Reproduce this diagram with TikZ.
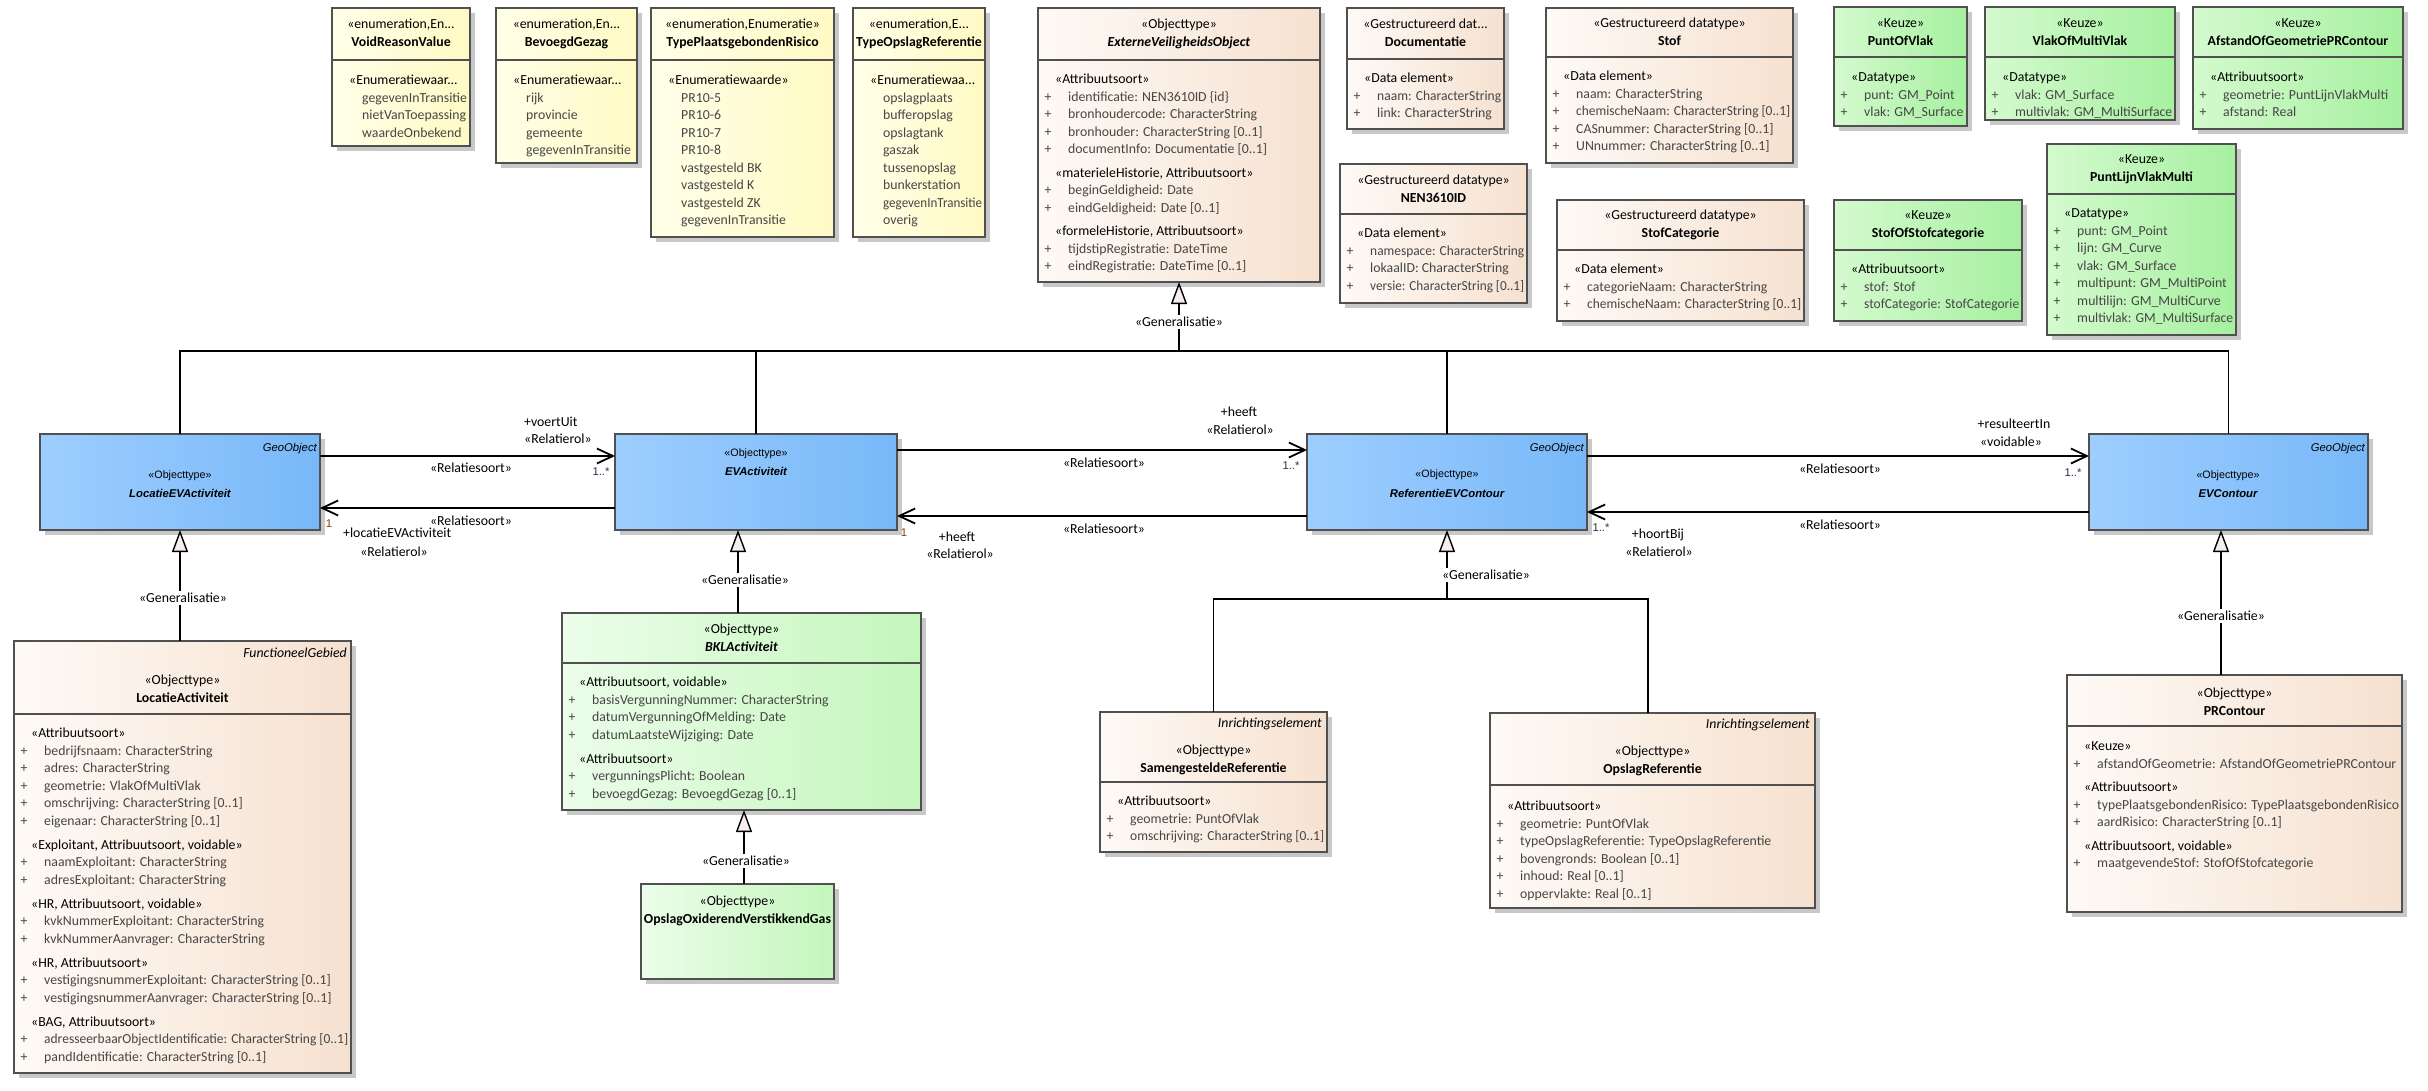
\documentclass[tikz,border=0pt]{standalone}
\usepackage{fontspec}
\setmainfont{Carlito}
\newfontfamily\arialf{Liberation Sans}
\usepackage{graphicx}
\usetikzlibrary{arrows.meta,shadows}
\definecolor{boxc}{RGB}{80,80,80}
\definecolor{yelL}{RGB}{255,255,232}
\definecolor{yelR}{RGB}{255,250,196}
\definecolor{peL}{RGB}{254,250,246}
\definecolor{peR}{RGB}{246,225,208}
\definecolor{grL}{RGB}{212,250,206}
\definecolor{grR}{RGB}{166,240,160}
\definecolor{lgL}{RGB}{236,253,234}
\definecolor{lgR}{RGB}{196,246,188}
\definecolor{blL}{RGB}{158,206,255}
\definecolor{blR}{RGB}{120,184,248}
\definecolor{shd}{RGB}{200,200,200}
\definecolor{trif}{RGB}{246,238,236}
\definecolor{multc}{RGB}{40,50,80}
\definecolor{onec}{RGB}{120,70,10}
\definecolor{attrc}{RGB}{70,70,70}
\newlength\attrw
\newsavebox\fitbox
\newcommand{\fitw}[2]{\sbox\fitbox{#2}\ifdim\wd\fitbox>#1\relax\resizebox{#1}{\height}{\usebox\fitbox}\else\usebox\fitbox\fi}
\newcommand{\st}[1]{\hspace*{10.5pt}«#1»}
\newcommand{\sx}[1]{\hspace*{10.5pt}#1}
\newcommand{\at}[1]{{\color{attrc}\makebox[23.5pt][l]{+}\fitw{\attrw}{#1}}}
\newcommand{\ev}[1]{\hspace*{23.5pt}{\color{attrc}\fitw{\attrw}{#1}}}
\newcommand{\ubox}[6]{\node[box,#2,minimum width={#5pt-#3pt},minimum height={#6pt-#4pt}] (#1) at ({(#3+#5)/2},{(#4+#6)/2}) {};}
\newcommand{\uhdr}[2]{\draw[hdr] (#1.west |- 0,#2) -- (#1.east |- 0,#2);}
\newcommand{\ttl}[5]{\node[ttl] (#1) at (#2,#3) {\begin{tabular}[t]{@{}c@{}}#4\\#5\end{tabular}};}
\newcommand{\bdy}[5]{\node[bdy] (#1) at (#2,#3) {\setlength\attrw{#4pt}\begin{tabular}[t]{@{}l@{}}#5\end{tabular}};}
\tikzset{
 box/.style={draw=boxc, line width=1.4pt, inner sep=0pt, outer sep=0pt, drop shadow={shadow xshift=5pt, shadow yshift=-5pt, fill=shd, opacity=1}},
 yel/.style={left color=yelL, right color=yelR},
 peach/.style={left color=peL, right color=peR},
 grn/.style={left color=grL, right color=grR},
 lgrn/.style={left color=lgL, right color=lgR},
 blu/.style={left color=blL, right color=blR},
 hdr/.style={draw=boxc, line width=1.4pt},
 ttl/.style={anchor=base, inner sep=0pt, font=\fontsize{13.8}{18}\selectfont},
 bdy/.style={anchor=base west, inner sep=0pt, font=\fontsize{13.8}{17.5}\selectfont},
 tag/.style={anchor=base east, inner sep=0pt, font=\itshape\fontsize{13.8}{16}\selectfont},
 geo/.style={anchor=base east, inner sep=0pt, font=\arialf\itshape\fontsize{11.3}{13}\selectfont},
 bst/.style={anchor=base, inner sep=0pt, font=\arialf\fontsize{10.7}{13}\selectfont},
 bnm/.style={anchor=base, inner sep=0pt, font=\arialf\bfseries\itshape\fontsize{11.3}{13}\selectfont},
 lbl/.style={anchor=base, inner sep=0pt, font=\fontsize{13.8}{16}\selectfont},
 lblw/.style={lbl, anchor=base west},
 mlt/.style={anchor=base, inner sep=0pt, text=multc, font=\arialf\fontsize{11.3}{13}\selectfont},
 mltone/.style={mlt, text=onec},
 genl/.style={anchor=base, inner sep=2pt, fill=white, font=\fontsize{13.8}{16}\selectfont},
 conn/.style={draw=black, line width=1.5pt},
 assoc/.style={draw=black, line width=1.8pt, -{Straight Barb[length=16pt,width=15pt,line width=1.8pt]}},
 gen/.style={conn, -{Triangle[length=22pt,width=16pt,fill=trif,line width=1.4pt]}},
}
\begin{document}
\begin{tikzpicture}[x=1pt,y=-1pt]
\fill[white] (0,0) rectangle (2428,1090);
\useasboundingbox (0,0) rectangle (2428,1090);

% ---------- enumerations ----------
\ubox{vrv}{yel}{332}{8}{470}{146}
\uhdr{vrv}{60}
\ttl{vrvt}{401}{28.5}{«enumeration,En...}{\textbf{VoidReasonValue}}
\bdy{vrvb}{338.5}{84.5}{105}{\sx{«Enumeratiewaar...}\\\ev{gegevenInTransitie}\\\ev{nietVanToepassing}\\\ev{waardeOnbekend}}

\ubox{bg}{yel}{496}{8}{637}{163}
\uhdr{bg}{60}
\ttl{bgt}{566.5}{28.5}{«enumeration,En...}{\textbf{BevoegdGezag}}
\bdy{bgb}{502.5}{84.5}{108}{\sx{«Enumeratiewaar...}\\\ev{rijk}\\\ev{provincie}\\\ev{gemeente}\\\ev{gegevenInTransitie}}

\ubox{tpr}{yel}{651}{8}{834}{237}
\uhdr{tpr}{60}
\ttl{tprt}{742.5}{28.5}{«enumeration,Enumeratie»}{\textbf{TypePlaatsgebondenRisico}}
\bdy{tprb}{657.5}{84.5}{150}{\st{Enumeratiewaarde}\\\ev{PR10-5}\\\ev{PR10-6}\\\ev{PR10-7}\\\ev{PR10-8}\\\ev{vastgesteld BK}\\\ev{vastgesteld K}\\\ev{vastgesteld ZK}\\\ev{gegevenInTransitie}}

\ubox{tor}{yel}{853}{8}{985}{237}
\uhdr{tor}{60}
\ttl{tort}{919}{28.5}{«enumeration,E...}{\textbf{\fitw{128pt}{TypeOpslagReferentie}}}
\bdy{torb}{859.5}{84.5}{99}{\sx{«Enumeratiewaa...}\\\ev{opslagplaats}\\\ev{bufferopslag}\\\ev{opslagtank}\\\ev{gaszak}\\\ev{tussenopslag}\\\ev{bunkerstation}\\\ev{gegevenInTransitie}\\\ev{overig}}

% ---------- ExterneVeiligheidsObject ----------
\ubox{evo}{peach}{1038}{8}{1320}{282}
\uhdr{evo}{60}
\ttl{evot}{1179}{28.5}{«Objecttype»}{\textbf{\textit{ExterneVeiligheidsObject}}}
\bdy{evob}{1044.5}{83.5}{249}{\st{Attribuutsoort}\\\at{identificatie: NEN3610ID \{id\}}\\\at{bronhoudercode: CharacterString}\\\at{bronhouder: CharacterString [0..1]}\\\at{documentInfo: Documentatie [0..1]}\\[6pt]\st{materieleHistorie, Attribuutsoort}\\\at{beginGeldigheid: Date}\\\at{eindGeldigheid: Date [0..1]}\\[6pt]\st{formeleHistorie, Attribuutsoort}\\\at{tijdstipRegistratie: DateTime}\\\at{eindRegistratie: DateTime [0..1]}}

% ---------- datatypes ----------
\ubox{doc}{peach}{1347}{8}{1504}{129}
\uhdr{doc}{59}
\ttl{doct}{1425.5}{28.5}{«Gestructureerd dat...}{\textbf{Documentatie}}
\bdy{docb}{1353.5}{82.5}{124}{\st{Data element}\\\at{naam: CharacterString}\\\at{link: CharacterString}}

\ubox{stof}{peach}{1546}{8}{1793}{163}
\uhdr{stof}{57}
\ttl{stoft}{1669.5}{27.5}{«Gestructureerd datatype»}{\textbf{Stof}}
\bdy{stofb}{1552.5}{80.5}{214}{\st{Data element}\\\at{naam: CharacterString}\\\at{chemischeNaam: CharacterString [0..1]}\\\at{CASnummer: CharacterString [0..1]}\\\at{UNnummer: CharacterString [0..1]}}

\ubox{nen}{peach}{1340}{164}{1527}{303}
\uhdr{nen}{214}
\ttl{nent}{1433.5}{184.5}{«Gestructureerd datatype»}{\textbf{NEN3610ID}}
\bdy{nenb}{1346.5}{237.5}{154}{\st{Data element}\\\at{namespace: CharacterString}\\\at{lokaalID: CharacterString}\\\at{versie: CharacterString [0..1]}}

\ubox{stc}{peach}{1557}{200}{1804}{321}
\uhdr{stc}{250}
\ttl{stct}{1680.5}{219.5}{«Gestructureerd datatype»}{\textbf{StofCategorie}}
\bdy{stcb}{1563.5}{273.5}{214}{\st{Data element}\\\at{categorieNaam: CharacterString}\\\at{chemischeNaam: CharacterString [0..1]}}

% ---------- Keuze ----------
\ubox{pov}{grn}{1834}{7}{1967}{126}
\uhdr{pov}{57}
\ttl{povt}{1900.5}{27.5}{«Keuze»}{\textbf{PuntOfVlak}}
\bdy{povb}{1840.5}{81.5}{100}{\st{Datatype}\\\at{punt: GM\_Point}\\\at{vlak: GM\_Surface}}

\ubox{vmv}{grn}{1985}{7}{2175}{120}
\uhdr{vmv}{57}
\ttl{vmvt}{2080}{27.5}{«Keuze»}{\textbf{VlakOfMultiVlak}}
\bdy{vmvb}{1991.5}{81.5}{157}{\st{Datatype}\\\at{vlak: GM\_Surface}\\\at{multivlak: GM\_MultiSurface}}

\ubox{aog}{grn}{2193}{7}{2403}{129}
\uhdr{aog}{57}
\ttl{aogt}{2298}{27.5}{«Keuze»}{\textbf{\fitw{204pt}{AfstandOfGeometriePRContour}}}
\bdy{aogb}{2199.5}{81.5}{177}{\st{Attribuutsoort}\\\at{geometrie: PuntLijnVlakMulti}\\\at{afstand: Real}}

\ubox{sos}{grn}{1834}{200}{2022}{321}
\uhdr{sos}{250}
\ttl{sost}{1928}{219.5}{«Keuze»}{\textbf{StofOfStofcategorie}}
\bdy{sosb}{1840.5}{273.5}{155}{\st{Attribuutsoort}\\\at{stof: Stof}\\\at{stofCategorie: StofCategorie}}

\ubox{plv}{grn}{2047}{144}{2236}{335}
\uhdr{plv}{194}
\ttl{plvt}{2141.5}{163.5}{«Keuze»}{\textbf{PuntLijnVlakMulti}}
\bdy{plvb}{2053.5}{217.5}{156}{\st{Datatype}\\\at{punt: GM\_Point}\\\at{lijn: GM\_Curve}\\\at{vlak: GM\_Surface}\\\at{multipunt: GM\_MultiPoint}\\\at{multilijn: GM\_MultiCurve}\\\at{multivlak: GM\_MultiSurface}}

% ---------- blue objecttypes ----------
\ubox{locev}{blu}{40}{434}{320}{530}
\node[geo] (locevg) at (317,451) {GeoObject};
\node[bst] (locevs) at (180,478) {«Objecttype»};
\node[bnm] (locevn) at (180,497) {LocatieEVActiviteit};

\ubox{evact}{blu}{615}{434}{897}{530}
\node[bst] (evacts) at (756,456) {«Objecttype»};
\node[bnm] (evactn) at (756,475) {EVActiviteit};

\ubox{refev}{blu}{1307}{434}{1587}{530}
\node[geo] (refevg) at (1584,451) {GeoObject};
\node[bst] (refevs) at (1447,477) {«Objecttype»};
\node[bnm] (refevn) at (1447,497) {ReferentieEVContour};

\ubox{evc}{blu}{2089}{434}{2368}{530}
\node[geo] (evcg) at (2365,451) {GeoObject};
\node[bst] (evcs) at (2228,478) {«Objecttype»};
\node[bnm] (evcn) at (2228,497) {EVContour};

% ---------- lower objecttypes ----------
\ubox{locact}{peach}{14}{641}{351}{1073}
\uhdr{locact}{714}
\node[tag] (locactg) at (347,657.5) {FunctioneelGebied};
\ttl{locactt}{182.5}{684.5}{«Objecttype»}{\textbf{LocatieActiviteit}}
\bdy{locactb}{20.5}{737.5}{304}{\st{Attribuutsoort}\\\at{bedrijfsnaam: CharacterString}\\\at{adres: CharacterString}\\\at{geometrie: VlakOfMultiVlak}\\\at{omschrijving: CharacterString [0..1]}\\\at{eigenaar: CharacterString [0..1]}\\[6.5pt]\st{Exploitant, Attribuutsoort, voidable}\\\at{naamExploitant: CharacterString}\\\at{adresExploitant: CharacterString}\\[6.5pt]\st{HR, Attribuutsoort, voidable}\\\at{kvkNummerExploitant: CharacterString}\\\at{kvkNummerAanvrager: CharacterString}\\[6.5pt]\st{HR, Attribuutsoort}\\\at{vestigingsnummerExploitant: CharacterString [0..1]}\\\at{vestigingsnummerAanvrager: CharacterString [0..1]}\\[6.5pt]\st{BAG, Attribuutsoort}\\\at{adresseerbaarObjectIdentificatie: CharacterString [0..1]}\\\at{pandIdentificatie: CharacterString [0..1]}}

\ubox{bkl}{lgrn}{562}{613}{921}{810}
\uhdr{bkl}{663}
\ttl{bklt}{741.5}{633.5}{«Objecttype»}{\textbf{\textit{BKLActiviteit}}}
\bdy{bklb}{568.5}{686.5}{326}{\st{Attribuutsoort, voidable}\\\at{basisVergunningNummer: CharacterString}\\\at{datumVergunningOfMelding: Date}\\\at{datumLaatsteWijziging: Date}\\[6.5pt]\st{Attribuutsoort}\\\at{vergunningsPlicht: Boolean}\\\at{bevoegdGezag: BevoegdGezag [0..1]}}

\ubox{opox}{lgrn}{641}{884}{834}{979}
\ttl{opoxt}{737.5}{905.5}{«Objecttype»}{\textbf{\fitw{188pt}{OpslagOxiderendVerstikkendGas}}}

\ubox{samen}{peach}{1100}{712}{1327}{852}
\uhdr{samen}{782}
\node[tag] (sameng) at (1322,727.5) {Inrichtingselement};
\ttl{sament}{1213.5}{754.5}{«Objecttype»}{\textbf{SamengesteldeReferentie}}
\bdy{samenb}{1106.5}{805.5}{194}{\st{Attribuutsoort}\\\at{geometrie: PuntOfVlak}\\\at{omschrijving: CharacterString [0..1]}}

\ubox{opref}{peach}{1490}{713}{1815}{908}
\uhdr{opref}{785}
\node[tag] (oprefg) at (1810,728.5) {Inrichtingselement};
\ttl{opreft}{1652.5}{755.5}{«Objecttype»}{\textbf{OpslagReferentie}}
\bdy{oprefb}{1496.5}{810.5}{292}{\st{Attribuutsoort}\\\at{geometrie: PuntOfVlak}\\\at{typeOpslagReferentie: TypeOpslagReferentie}\\\at{bovengronds: Boolean [0..1]}\\\at{inhoud: Real [0..1]}\\\at{oppervlakte: Real [0..1]}}

\ubox{prc}{peach}{2067}{675}{2402}{912}
\uhdr{prc}{726}
\ttl{prct}{2234.5}{697.5}{«Objecttype»}{\textbf{PRContour}}
\bdy{prcb}{2073.5}{750.5}{302}{\st{Keuze}\\\at{afstandOfGeometrie: AfstandOfGeometriePRContour}\\[6pt]\st{Attribuutsoort}\\\at{typePlaatsgebondenRisico: TypePlaatsgebondenRisico}\\\at{aardRisico: CharacterString [0..1]}\\[6pt]\st{Attribuutsoort, voidable}\\\at{maatgevendeStof: StofOfStofcategorie}}

% ---------- generalisations ----------
\coordinate (jtop) at (1179,351);
\draw[conn] (locev.north) |- (jtop);
\draw[conn] (evact.north) |- (jtop);
\draw[conn] (refev.north) |- (jtop);
\draw[conn] (evc.north) |- (jtop);
\draw[gen] (jtop) -- (evo.south);
\draw[gen] (locact.north -| locev.south) -- (locev.south);
\draw[gen] ([xshift=-3.5pt]bkl.north) -- ([xshift=-3.5pt]bkl.north |- evact.south);
\draw[gen] ([xshift=6.5pt]opox.north) -- ([xshift=6.5pt]opox.north |- bkl.south);
\coordinate (jref) at (1447,599);
\draw[conn] (samen.north) |- (jref);
\draw[conn] ([xshift=-4.5pt]opref.north) |- (jref);
\draw[gen] (jref) -- (refev.south);
\draw[gen] ([xshift=-13.5pt]prc.north) -- ([xshift=-13.5pt]prc.north |- evc.south);

\node[genl] (g1) at (1179,326.5) {«Generalisatie»};
\node[genl] (g2) at (183,602.5) {«Generalisatie»};
\node[genl] (g3) at (745,584.5) {«Generalisatie»};
\node[genl] (g4) at (746,865.5) {«Generalisatie»};
\node[genl] (g5) at (1486,579.5) {«Generalisatie»};
\node[genl] (g6) at (2221,620.5) {«Generalisatie»};

% ---------- associations ----------
\draw[assoc] ([yshift=26pt]locev.east) -- ([yshift=26pt]evact.west);
\draw[assoc] ([yshift=-26pt]evact.west) -- ([yshift=-26pt]locev.east);
\draw[assoc] ([yshift=32pt]evact.east) -- ([yshift=32pt]refev.west);
\draw[assoc] ([yshift=-34pt]refev.west) -- ([yshift=-34pt]evact.east);
\draw[assoc] ([yshift=26pt]refev.east) -- ([yshift=26pt]evc.west);
\draw[assoc] ([yshift=-30pt]evc.west) -- ([yshift=-30pt]refev.east);

\node[lblw] (l1) at (524,426.5) {+voertUit};
\node[lblw] (l2) at (524,443.5) {«Relatierol»};
\node[lbl] (l3) at (471,472.5) {«Relatiesoort»};
\node[mlt] (m1) at (601,475.5) {1..*};
\node[lbl] (l4) at (471,525.5) {«Relatiesoort»};
\node[mltone] (m2) at (329,527.5) {1};
\node[lblw] (l5) at (343,537.5) {+locatieEVActiviteit};
\node[lbl] (l6) at (394,556.5) {«Relatierol»};

\node[lbl] (l7) at (1239,416.5) {+heeft};
\node[lbl] (l8) at (1240,434.5) {«Relatierol»};
\node[lbl] (l9) at (1104,467.5) {«Relatiesoort»};
\node[mlt] (m3) at (1291,469.5) {1..*};
\node[lbl] (l10) at (1104,533.5) {«Relatiesoort»};
\node[mltone] (m4) at (904,536.5) {1};
\node[lbl] (l11) at (957,541.5) {+heeft};
\node[lbl] (l12) at (960,558.5) {«Relatierol»};

\node[lbl] (l13) at (2014,428.5) {+resulteertIn};
\node[lbl] (l14) at (2011,446.5) {«voidable»};
\node[lbl] (l15) at (1840,473.5) {«Relatiesoort»};
\node[mlt] (m5) at (2073,476.5) {1..*};
\node[lbl] (l16) at (1840,529.5) {«Relatiesoort»};
\node[mlt] (m6) at (1601,531.5) {1..*};
\node[lbl] (l17) at (1658,538.5) {+hoortBij};
\node[lbl] (l18) at (1659,556.5) {«Relatierol»};
\end{tikzpicture}
\end{document}
